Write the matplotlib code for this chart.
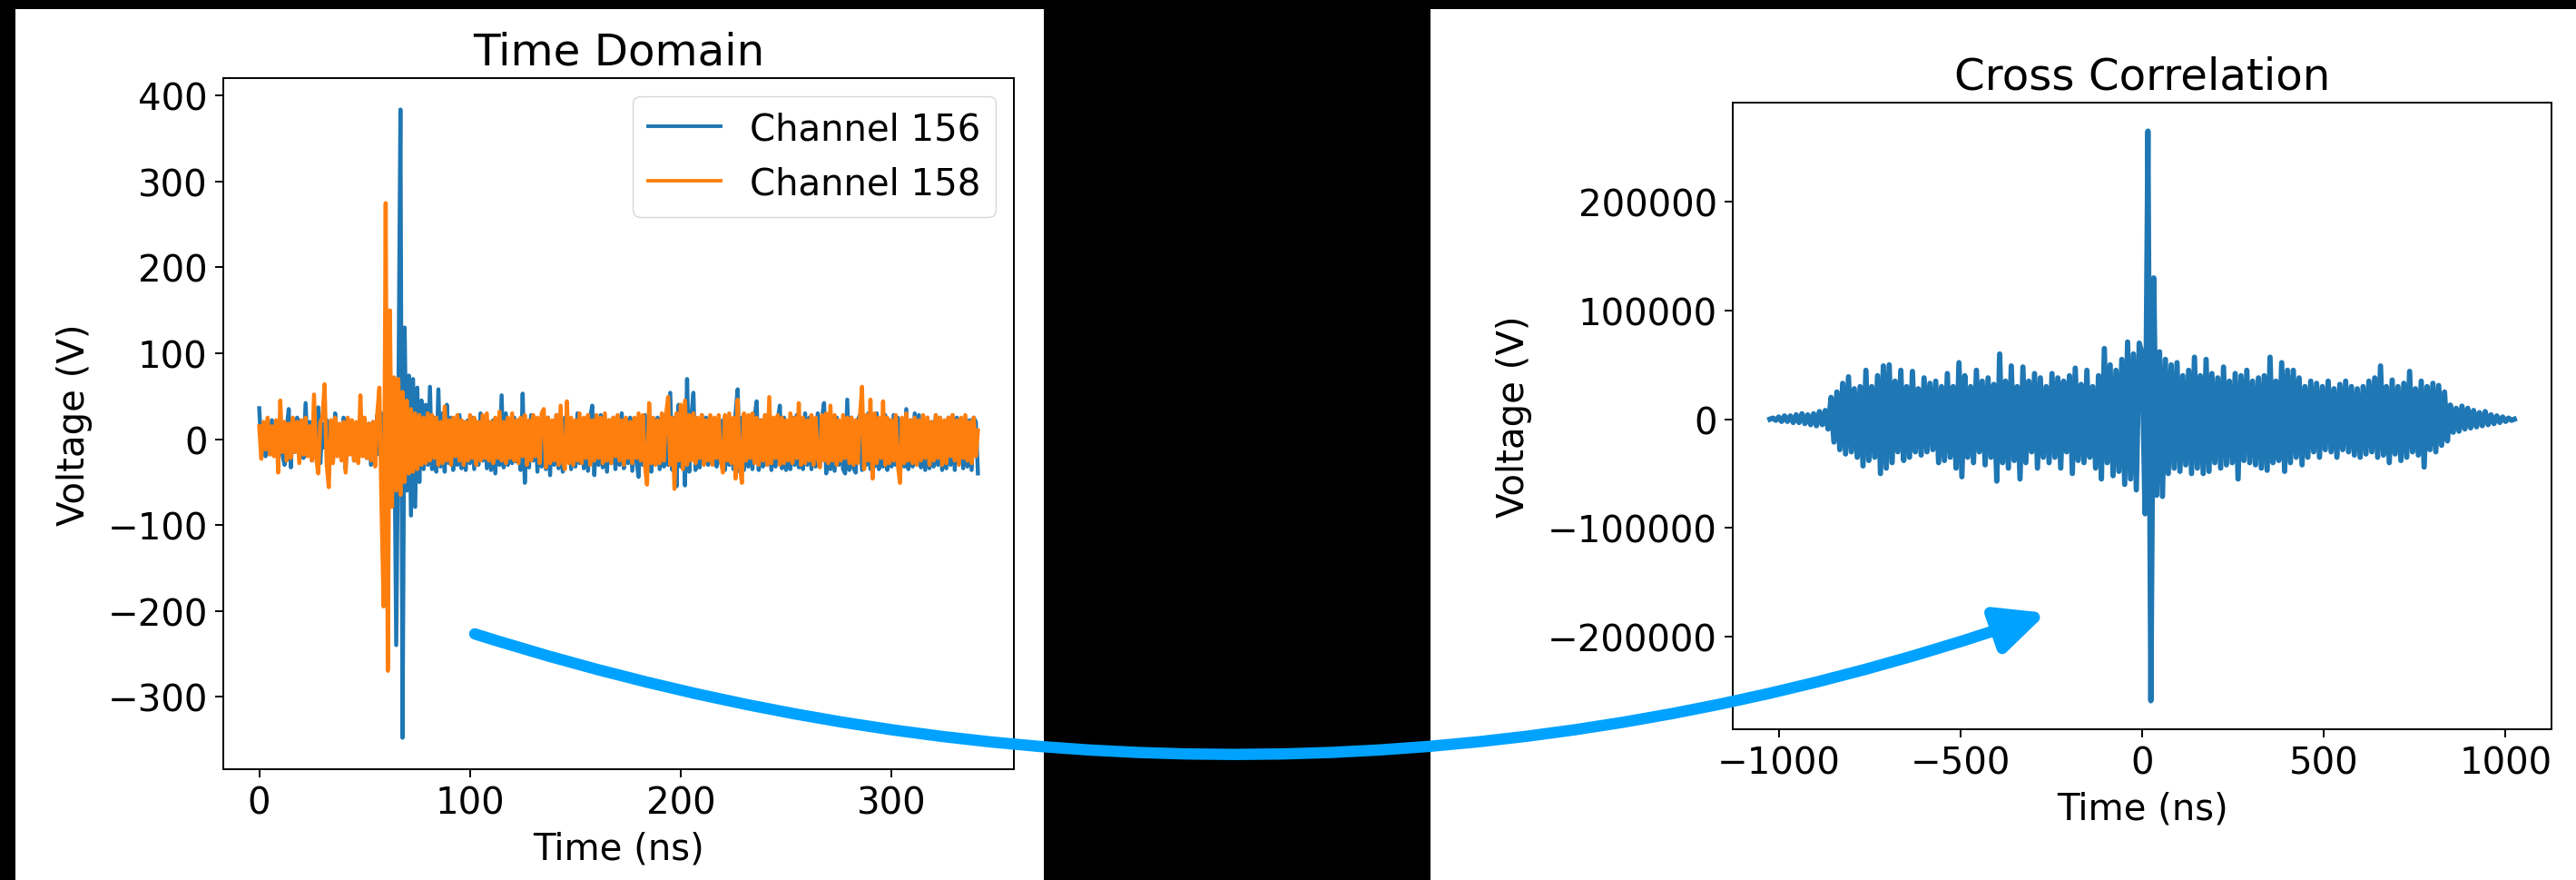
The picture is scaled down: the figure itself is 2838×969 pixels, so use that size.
import numpy as np
import matplotlib
matplotlib.use("Agg")
import matplotlib.pyplot as plt
from matplotlib.patches import Rectangle, FancyArrowPatch

# time domain traces, one sample per ns (values in V)
dt_ns = 1.0
ch156 = [
    36, -10, 15, -20, 8, -15, 22, -12, 18, -25, 10, -18, -30, 12, 35, -33, 20, -15, 25, -20,
    15, -22, 42, -18, 20, -25, 12, -15, 37, -28, 18, -10, 22, -20, 15, -25, 30, -18, 12, -22,
    25, -35, 18, -12, 20, -25, 15, -20, 25, -15, 12, -22, 18, -30, 20, -25, 28, -18, 30, -20,
    25, -40, 45, -30, 50, -240, 30, 384, -348, 130, -60, 74, -89, 70, -79, 60, -50, 45, -35, 40,
    -30, 61, -35, 25, -38, 58, -32, 30, -38, 40, -28, 25, -36, 18, -30, 28, -34, 20, -36, 22,
    -28, 25, -35, 20, -30, 30, -25, 18, -34, 20, -36, 22, -40, 18, -30, 51, -33, 30, -30, 15,
    -28, 25, -26, 22, -36, 53, -51, 20, -33, 28, -25, 22, -38, 18, -32, 20, -35, 25, -42, 20,
    -30, 28, -34, 20, -38, 25, -26, 22, -35, 20, -32, 30, -28, 18, -34, 22, -37, 25, 39, -42,
    25, -30, 28, -33, 18, -38, 22, -28, 25, -35, 20, -30, 30, -34, 18, -28, 25, -37, 22, -26,
    -44, 25, -30, 28, -34, 30, -38, 22, -28, 25, -35, 20, -32, 30, -30, 54, -36, 25, -55, 40,
    -32, 30, -54, 70, -38, 25, 54, -36, 22, -33, 28, -28, 25, -30, 20, -26, 18, -32, 25, -28,
    22, -36, 25, -30, 20, -35, 30, 58, -38, 25, -36, 22, -32, 20, -35, 25, 44, -36, 22, -32,
    28, -30, 25, -36, 20, -32, 22, 39, -34, 25, -36, 20, -35, 25, -30, 28, -33, 20, -35, 30,
    -30, 25, -35, 20, -32, 30, -30, 25, 42, -40, 25, -35, 22, -37, 25, -30, 20, -35, -40, 46,
    -36, 25, -34, -39, 22, 28, -36, 25, -30, 30, -35, 22, -32, 30, -35, 20, -32, 28, -36, 22,
    -32, 28, -30, 25, -36, 20, -32, 35, -35, 22, -32, 30, -28, 28, -33, 22, -36, 25, -34, 20,
    -32, 28, -30, 25, -36, 20, -34, 25, -30, 28, -36, 25, -28, 22, -34, 25, -32, 22, -36, 25,
    20, -40,
]
ch158 = [
    15, -23, 20, -12, 25, -18, 15, -20, 22, -39, 45, -15, 20, -25, 18, -22, 25, -15, 20, -28,
    22, -18, 25, -20, 15, -25, 52, -22, -40, 20, 25, 64, -30, -56, 22, -28, 25, -20, 18, -25,
    20, -39, 25, -18, 22, -25, 20, -28, 51, -20, 25, -22, 18, -25, 20, -32, 30, 60, -76, -195,
    275, -270, 150, -79, 72, -60, 70, -65, 55, -50, 45, -40, 35, -38, 30, -35, 28, -30, 25, -28,
    30, -25, 28, -22, 25, -30, 20, -28, 38, -25, 22, -30, 25, -20, 28, -25, 22, -30, 20, -25,
    28, -22, 25, -30, 20, -25, 28, -22, 30, -25, 20, -28, 25, -22, 32, -25, 20, -28, 25, -22,
    30, -25, 22, -28, 25, -20, 28, -30, 22, -25, 28, -20, 25, -28, 30, 35, -33, 25, -28, 22,
    -25, 28, -30, 39, -25, -35, 44, -28, 25, -30, 22, -25, 30, -28, 25, -22, 28, -30, 22, -25,
    28, -22, 25, -28, 30, -25, 22, -28, 25, -20, 28, -25, 22, -30, 25, -22, 20, -28, 25, -22,
    30, -25, 28, -30, -53, 42, -28, 25, -30, 22, -28, 30, -25, 28, 49, -30, 25, -58, 30, -25,
    40, -35, 45, -30, 28, -25, 30, -28, 25, -22, 28, -30, 22, -25, 28, -30, 25, -22, 28, -25,
    -39, 28, -25, 30, -28, 25, -46, 46, -30, -51, 30, -25, 28, -22, 30, -28, 25, -30, 22, -25,
    28, -30, 49, -28, 25, -22, 28, -30, 25, -28, 22, -25, 30, -28, 25, -22, 42, -30, 25, -28,
    22, -25, 28, -30, 25, -22, -33, 28, -25, 30, -28, 39, -25, 28, -30, 22, -25, 28, -22, 25,
    -28, 25, -30, 22, -28, 25, 61, -35, 28, -25, 46, -46, 30, -28, 25, -22, 44, -30, 25, -28,
    22, -25, 28, -30, -51, 25, -28, 30, -25, 22, -28, 25, -30, 22, -25, 28, -22, 25, -30, 20,
    -25, 28, -22, 25, -30, 22, -28, 25, -20, 28, -25, 22, -30, 25, -22, 28, -25, 20, -28, 25,
    -20, 10,
]

# cross correlation, lag -1024 .. 1024 ns every 8 ns (values in thousands)
lag_start, lag_step = -1024, 8
xcorr_k = [
    0, 1, -1, 2, -2, 3, -2, 3, -3, 4, -3, 5, -4, 4, -5, 5,
    -6, 7, -5, 8, -9, 20, -21, 25, -28, 33, -32, 39, -30, 28, -35, 30,
    -43, 45, -38, 30, -35, 40, -50, 49, -45, 50, -40, 35, -30, 45, -38, 30,
    -35, 44, -30, 28, -33, 38, -30, 33, -28, 35, -40, 30, -38, 42, -35, 30,
    -45, 52, -53, 40, -35, 30, -40, 45, -30, 35, -42, 38, -35, 32, -57, 60,
    -40, 35, -45, 49, -38, 30, -55, 48, -40, 35, -30, 42, -45, 38, -35, 30,
    -40, 42, -35, 38, -45, 35, -30, 40, -50, 47, -38, 32, -40, 45, -35, 30,
    -45, 40, -55, 65, -40, 50, -52, 45, -48, 55, -60, 71, -55, 60, -65, 70,
    60, -87, 265, -259, 130, -70, 62, -71, 55, -50, 50, -45, 52, -48, 40, -42,
    45, -50, 57, -45, 40, -50, 55, -48, 42, -40, 38, -45, 48, -42, 35, -40,
    42, -55, 40, -38, 45, -40, 35, -42, 38, -45, 40, -47, 57, -40, 35, -38,
    52, -48, 45, -40, 45, -35, 38, -42, 30, -35, 35, -30, 33, -35, 30, -28,
    35, -30, 28, -35, 32, -28, 35, -30, 30, -33, 28, -35, 30, -32, 35, -30,
    38, -35, 49, -33, 30, -40, 36, -32, 30, -38, 33, -35, 44, -30, 28, -33,
    35, -44, 30, -28, 33, -30, 31, -24, 25, -20, 13, -12, 10, -11, 12, -9,
    10, -8, 8, -7, 6, -6, 7, -5, 4, -4, 3, -3, 2, -2, 1, -1,
    0,
]

plt.rcParams['font.family'] = 'DejaVu Sans'
plt.rcParams['font.size'] = 29

W, H = 2838, 970
fig = plt.figure(figsize=(W / 100, H / 100), dpi=100, facecolor='black')

# white panels on the black background
for x0, x1 in [(17, 1150), (1576, W)]:
    fig.add_artist(Rectangle((x0 / W, 0), (x1 - x0) / W, 1 - 11 / H, transform=fig.transFigure,
                             facecolor='white', edgecolor='none', zorder=-5))

ax1 = fig.add_axes([246 / W, 1 - 848 / H, (1117 - 246) / W, (848 - 87) / H])
ax2 = fig.add_axes([1909 / W, 1 - 804 / H, (2811 - 1909) / W, (804 - 114) / H])

ax1.plot(np.arange(len(ch156)) * dt_ns, ch156, color='#1f77b4', lw=3.2, label='Channel 156')
ax1.plot(np.arange(len(ch158)) * dt_ns, ch158, color='#ff7f0e', lw=3.2, label='Channel 158')
ax1.set_title('Time Domain', pad=11)
ax1.set_xlabel('Time (ns)', labelpad=7)
ax1.set_ylabel('Voltage (V)', labelpad=12)
ax1.set_xticks([0, 100, 200, 300])
ax1.set_yticks([-300, -200, -100, 0, 100, 200, 300, 400])
leg = ax1.legend(loc='upper right')
for line in leg.get_lines():
    line.set_linewidth(2.8)

lags = lag_start + np.arange(len(xcorr_k)) * lag_step
ax2.plot(lags, np.array(xcorr_k) * 1000, color='#1f77b4', lw=4.2)
ax2.set_title('Cross Correlation', pad=11)
ax2.set_xlabel('Time (ns)', labelpad=7)
ax2.set_ylabel('Voltage (V)', labelpad=12)
ax2.set_xticks([-1000, -500, 0, 500, 1000])
ax2.set_yticks([-200000, -100000, 0, 100000, 200000])
ax2.ticklabel_format(axis='y', style='plain')

for ax in (ax1, ax2):
    ax.tick_params(length=6.5, width=1.4, pad=6)
    for s in ax.spines.values():
        s.set_linewidth(1.4)

arrow = FancyArrowPatch((523 / W, 1 - 699 / H), (2255 / W, 1 - 676 / H), transform=fig.transFigure,
                        connectionstyle='arc3,rad=0.165',
                        arrowstyle='-|>,head_length=3.2,head_width=1.5', mutation_scale=10,
                        color='#00a2ff', lw=9, shrinkA=0, shrinkB=0, zorder=10)
fig.add_artist(arrow)

fig.savefig('out.png', dpi=100, facecolor='black')
